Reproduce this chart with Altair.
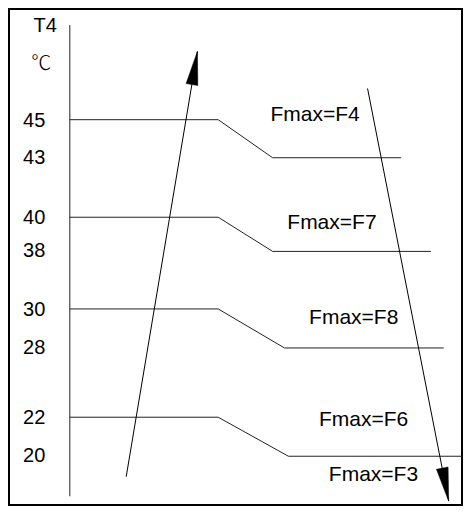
import math
import altair as alt
import pandas as pd

# ---- diagram data (diagram units: x to the right, y downward) ----
upper_t = ["45", "40", "30", "22"]
lower_t = ["43", "38", "28", "20"]
upper_y = [117, 217, 311, 422]
lower_y = [156, 252, 351, 462]
bend_start_x = [220, 220, 220, 220]
bend_end_x = [275, 275, 287, 291]
line_end_x = [405, 435, 448, 467]
axis_x = 70
axis_top = 20
axis_bottom = 503

fmax_labels = ["Fmax=F4", "Fmax=F7", "Fmax=F8", "Fmax=F6", "Fmax=F3"]
fmax_x = [318, 335, 357, 367, 377]
fmax_y = [112, 223, 320, 425, 481]

head_labels = ["T4"]
head_x = [45]
head_y = [21]
unit_labels = ["℃"]
unit_x = [41]
unit_y = [60]
tick_label_x = 34

arrow_start_x = [127, 371]
arrow_start_y = [483, 85]
arrow_tip_x = [199, 453]
arrow_tip_y = [47, 508]

# ---- tables ----
rows = []
for i in range(len(upper_t)):
    pts = [(axis_x, upper_y[i]), (bend_start_x[i], upper_y[i]),
           (bend_end_x[i], lower_y[i]), (line_end_x[i], lower_y[i])]
    for k, (px, py) in enumerate(pts):
        rows.append({"band": i, "order": k, "x": px, "y": py})
steps = pd.DataFrame(rows)

tick_rows = []
for i in range(len(upper_t)):
    tick_rows.append({"label": upper_t[i], "x": tick_label_x, "y": upper_y[i] + 1})
    tick_rows.append({"label": lower_t[i], "x": tick_label_x, "y": lower_y[i]})
ticks = pd.DataFrame(tick_rows)
heads_txt = pd.DataFrame({"label": head_labels, "x": head_x, "y": head_y})
units = pd.DataFrame({"label": unit_labels, "x": unit_x, "y": unit_y})
fmax = pd.DataFrame({"label": fmax_labels, "x": fmax_x, "y": fmax_y})

arrows = pd.DataFrame({"x": arrow_start_x, "y": arrow_start_y,
                       "x2": arrow_tip_x, "y2": arrow_tip_y})
angles = []
for sx, sy, tx, ty in zip(arrow_start_x, arrow_start_y, arrow_tip_x, arrow_tip_y):
    ang = math.degrees(math.atan2(tx - sx, -(ty - sy)))
    angles.append(ang % 360)
heads = pd.DataFrame({"x": arrow_tip_x, "y": arrow_tip_y, "angle": angles})

axis_df = pd.DataFrame({"x": [axis_x], "y": [axis_top], "y2": [axis_bottom]})
border_df = pd.DataFrame({"x": [8.5], "x2": [466.5], "y": [3.5], "y2": [512]})

xs = alt.Scale(domain=[7.5, 467.5], nice=False, zero=False)
ys = alt.Scale(domain=[513, 2.5], nice=False, zero=False)
X = lambda f="x": alt.X(f"{f}:Q", scale=xs, axis=None)
Y = lambda f="y": alt.Y(f"{f}:Q", scale=ys, axis=None)

FONT = "Liberation Sans"

border = alt.Chart(border_df).mark_rect(fill=None, stroke="black", strokeWidth=2).encode(
    x=X(), x2="x2:Q", y=Y(), y2="y2:Q")

axis_line = alt.Chart(axis_df).mark_rule(color="#222", strokeWidth=1).encode(
    x=X(), y=Y(), y2="y2:Q")

step_lines = alt.Chart(steps).mark_line(color="#222", strokeWidth=1).encode(
    x=X(), y=Y(), detail="band:N", order="order:Q")

shafts = alt.Chart(arrows).mark_rule(color="black", strokeWidth=1).encode(
    x=X(), y=Y(), x2="x2:Q", y2="y2:Q")

arrow_heads = alt.Chart(heads).mark_point(
    shape="M0,0 L0.176,1 L-0.176,1 Z", size=4500, filled=True,
    fill="black", stroke="black", strokeWidth=0.5, opacity=1).encode(
    x=X(), y=Y(), angle=alt.Angle("angle:Q", scale=None))

tick_text = alt.Chart(ticks).mark_text(
    font=FONT, fontSize=20, align="center", baseline="middle", color="black").encode(
    x=X(), y=Y(), text="label:N")

head_text = alt.Chart(heads_txt).mark_text(
    font=FONT, fontSize=20, align="center", baseline="middle", color="black").encode(
    x=X(), y=Y(), text="label:N")

unit_text = alt.Chart(units).mark_text(
    font="Noto Sans CJK SC", fontSize=20, fontWeight=300, align="center",
    baseline="middle", color="black").encode(x=X(), y=Y(), text="label:N")

fmax_text = alt.Chart(fmax).mark_text(
    font=FONT, fontSize=21, align="center", baseline="middle", color="black").encode(
    x=X(), y=Y(), text="label:N")

chart = alt.layer(
    border, axis_line, step_lines, shafts, arrow_heads,
    tick_text, head_text, unit_text, fmax_text
).properties(
    width=455, height=498, padding=0, autosize=alt.AutoSizeParams(type="none")
).configure_view(stroke=None)

chart.save("out.html", embed_options={"renderer": "svg", "actions": False})
